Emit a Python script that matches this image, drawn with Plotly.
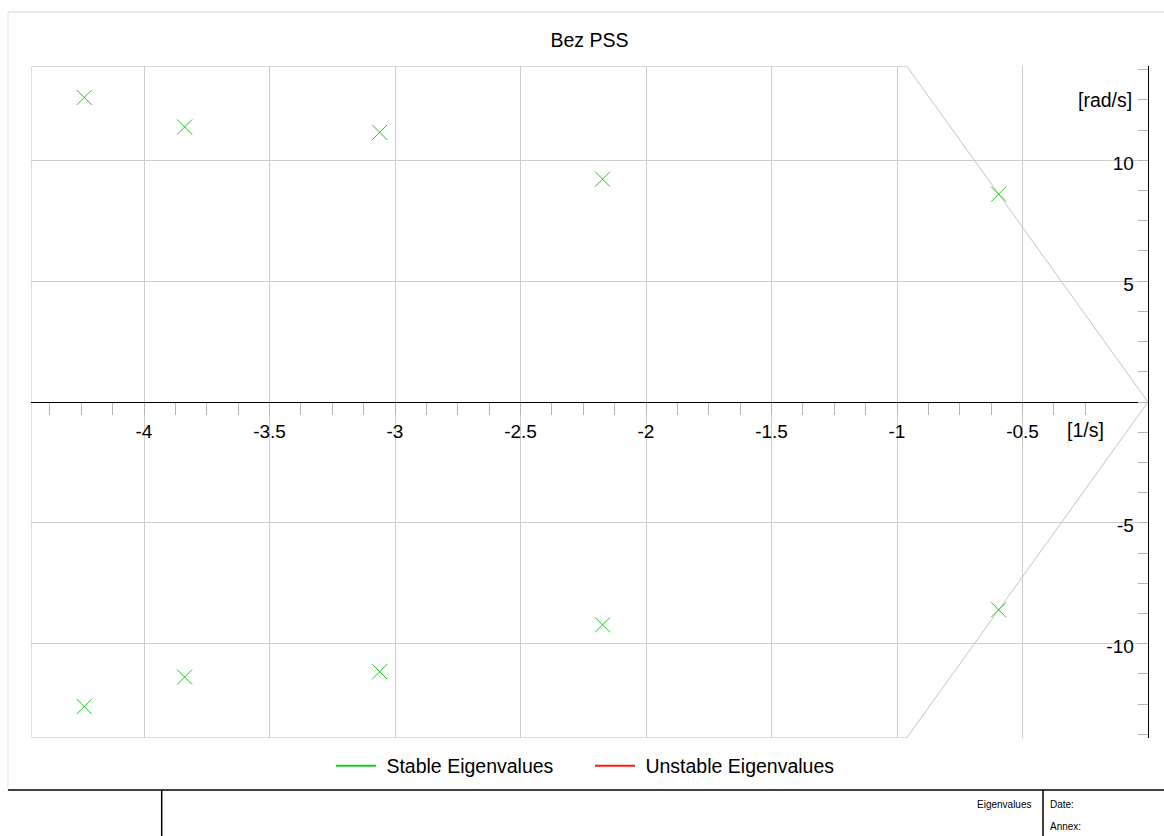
import plotly.graph_objects as go

W, H = 1164, 836

# ---------------- data ----------------
title_text = "Bez PSS"
stable_real = [-4.238, -3.838, -3.061, -2.173, -0.595,
               -4.238, -3.838, -3.061, -2.173, -0.595]
stable_imag = [12.60, 11.38, 11.16, 9.22, 8.60,
               -12.60, -11.38, -11.16, -9.22, -8.60]
unstable_real = []
unstable_imag = []
x_tick_vals = [-4, -3.5, -3, -2.5, -2, -1.5, -1, -0.5]
y_tick_vals = [-10, -5, 5, 10]
x_range = [-4.449, 0]
y_range = [-13.89, 13.89]
damping_ratio = 0.069
x_unit = "[1/s]"
y_unit = "[rad/s]"
legend_names = ["Stable Eigenvalues", "Unstable Eigenvalues"]

FONT = "Arial, 'Liberation Sans', sans-serif"
GREEN = "#1ec81e"
RED = "#ff1a1a"
GRID = "#cdcdcd"
TICK = "#b4b4b4"
BORDER = "#c4c4c4"


def px(x):
    return x / W


def py(y):
    return 1 - y / H


fig = go.Figure()

# plot boundary with damping-ratio limit lines
slope = damping_ratio / (1 - damping_ratio ** 2) ** 0.5
x_end = -y_range[1] * slope
x_left = x_range[0]
fig.add_trace(go.Scatter(
    x=[x_left, x_end, 0, x_end, x_left, x_left],
    y=[y_range[1], y_range[1], 0, y_range[0], y_range[0], y_range[1]],
    mode="lines", line=dict(color=BORDER, width=1),
    hoverinfo="skip", showlegend=False, cliponaxis=False))

# eigenvalues
fig.add_trace(go.Scatter(x=stable_real, y=stable_imag, mode="markers",
                         marker=dict(symbol="x-thin", size=15, color=GREEN,
                                     line=dict(color=GREEN, width=1)),
                         showlegend=False, name=legend_names[0]))
fig.add_trace(go.Scatter(x=unstable_real, y=unstable_imag, mode="markers",
                         marker=dict(symbol="x-thin", size=15, color=RED,
                                     line=dict(color=RED, width=1)),
                         showlegend=False, name=legend_names[1]))

# legend entries (drawn as lines like the reference)
fig.add_trace(go.Scatter(x=[None], y=[None], mode="lines",
                         line=dict(color=GREEN, width=2),
                         name="\u00a0" + legend_names[0]))
fig.add_trace(go.Scatter(x=[None], y=[None], mode="lines",
                         line=dict(color=RED, width=2),
                         name="\u00a0" + legend_names[1]))

fig.update_layout(
    width=W, height=H,
    margin=dict(l=0, r=0, t=0, b=0),
    paper_bgcolor="white", plot_bgcolor="white",
    font=dict(family=FONT, size=19.5, color="black"),
    title=dict(text=title_text, x=589.5 / W, xanchor="center",
               y=py(40), yanchor="middle", font=dict(size=19.5, color="black")),
    showlegend=True,
    legend=dict(orientation="h", x=590 / W, xanchor="center", y=py(766),
                yanchor="middle", font=dict(size=19.5, color="black"), itemwidth=40,
                entrywidth=204, entrywidthmode="pixels",
                bgcolor="rgba(0,0,0,0)"),
    xaxis=dict(domain=[px(31.3), px(1148)], range=x_range, anchor="free",
               position=py(402), showline=True, linecolor="black", linewidth=1,
               showgrid=True, gridcolor=GRID, gridwidth=1, zeroline=False,
               tickmode="array", tickvals=x_tick_vals,
               ticktext=[f"{v:g}" for v in x_tick_vals],
               ticks="outside", ticklen=12, tickcolor=TICK, tickwidth=1,
               minor=dict(tickmode="linear", tick0=0, dtick=0.125, ticks="outside",
                          ticklen=12, tickcolor=TICK, tickwidth=1, showgrid=False),
               tickfont=dict(size=19, color="black"), fixedrange=True),
    yaxis=dict(domain=[py(737.7), py(66.3)], range=y_range, side="right",
               showline=True, linecolor="black", linewidth=1,
               showgrid=True, gridcolor=GRID, gridwidth=1, zeroline=False,
               tickmode="array", tickvals=y_tick_vals,
               ticktext=[f"{v:g}" for v in y_tick_vals],
               ticks="inside", ticklen=10, tickcolor=TICK, tickwidth=1,
               ticklabelposition="inside", ticklabelstandoff=5, ticklabelshift=3,
               minor=dict(tickmode="linear", tick0=0, dtick=1.25, ticks="inside",
                          ticklen=10, tickcolor=TICK, tickwidth=1, showgrid=False),
               tickfont=dict(size=19, color="black"), fixedrange=True),
)

shapes = [
    # outer frame
    dict(type="line", xref="paper", yref="paper", x0=px(8), x1=1, y0=py(12), y1=py(12),
         line=dict(color="#d4d4d4", width=1)),
    dict(type="line", xref="paper", yref="paper", x0=px(8), x1=px(8), y0=py(12), y1=py(790),
         line=dict(color="#e4e4e4", width=1)),
    # title block
    dict(type="line", xref="paper", yref="paper", x0=px(8), x1=1, y0=py(790), y1=py(790),
         line=dict(color="black", width=1.5)),
    dict(type="line", xref="paper", yref="paper", x0=px(161.7), x1=px(161.7), y0=py(790), y1=0,
         line=dict(color="black", width=1.5)),
    dict(type="line", xref="paper", yref="paper", x0=px(1043), x1=px(1043), y0=py(790), y1=0,
         line=dict(color="black", width=1.5)),
]
# gridlines are interrupted behind the y tick labels
for v in y_tick_vals:
    shapes.append(dict(type="rect", xref="paper", yref="y", x0=px(1107), x1=px(1137),
                       y0=v - 0.3, y1=v + 0.3, fillcolor="white",
                       line=dict(width=0), layer="between"))
fig.update_layout(shapes=shapes)

annotations = [
    dict(text=y_unit, xref="paper", x=px(1134), xanchor="right", yref="y", y=12.5,
         yanchor="middle", showarrow=False, font=dict(size=19.5)),
    dict(text=x_unit, xref="x", x=-0.25, xanchor="center", yref="paper", y=py(430),
         yanchor="middle", showarrow=False, font=dict(size=19.5)),
    dict(text="Eigenvalues", xref="paper", x=px(1033), xanchor="right", yref="paper",
         y=py(804), yanchor="middle", showarrow=False, font=dict(size=10)),
    dict(text="Date:", xref="paper", x=px(1048), xanchor="left", yref="paper",
         y=py(804), yanchor="middle", showarrow=False, font=dict(size=10)),
    dict(text="Annex:", xref="paper", x=px(1048), xanchor="left", yref="paper",
         y=py(826), yanchor="middle", showarrow=False, font=dict(size=10)),
]
fig.update_layout(annotations=annotations)

fig.write_html("out.html", config={"displayModeBar": False},
               post_script="document.body.style.margin='0';document.body.style.overflow='hidden';")
